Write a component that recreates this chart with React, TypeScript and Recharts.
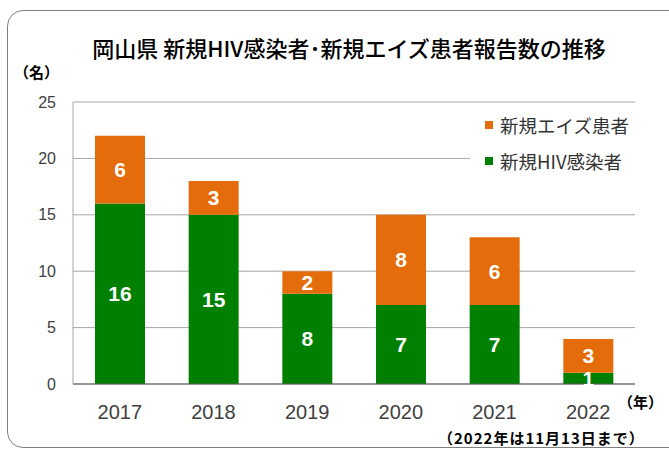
import { Bar, BarChart, CartesianGrid, LabelList, XAxis, YAxis } from "recharts";

const years = ["2017", "2018", "2019", "2020", "2021", "2022"];
const hivCases = [16, 15, 8, 7, 7, 1];
const aidsCases = [6, 3, 2, 8, 6, 3];
const yTicks = [0, 5, 10, 15, 20, 25];

const data = years.map((year, i) => ({
  year,
  hiv: hivCases[i],
  aids: aidsCases[i],
}));

const JP = "'Noto Sans CJK JP', sans-serif";
const NUM = "'Liberation Sans', Arial, sans-serif";

const ORANGE = "#E46C0A";
const GREEN = "#008000";

const legendItems = [
  { label: "新規エイズ患者", color: ORANGE },
  { label: "新規HIV感染者", color: GREEN },
];

export default function App() {
  return (
    <div style={{ position: "absolute", left: 0, top: 0, width: 669, height: 450, background: "#fff", overflow: "hidden" }}>
      <div
        style={{
          position: "absolute",
          left: 7,
          top: 10,
          width: 680,
          height: 436,
          border: "1px solid #7f7f7f",
          borderRadius: 16,
        }}
      />
      <div
        style={{
          position: "absolute",
          left: 0,
          width: 698,
          top: 33,
          textAlign: "center",
          fontFamily: JP,
          fontWeight: 500,
          fontSize: 22,
          color: "#000",
          lineHeight: "28px",
        }}
      >
        岡山県 新規HIV感染者･新規エイズ患者報告数の推移
      </div>
      <div style={{ position: "absolute", left: 14, top: 61, fontFamily: JP, fontWeight: 700, fontSize: 15, lineHeight: "22px" }}>
        （名）
      </div>
      <div style={{ position: "absolute", left: 618, top: 391, fontFamily: JP, fontWeight: 700, fontSize: 15, lineHeight: "22px" }}>
        （年）
      </div>
      <div
        style={{
          position: "absolute",
          left: 438,
          top: 428,
          fontFamily: JP,
          fontWeight: 700,
          fontSize: 15,
          letterSpacing: 1,
          lineHeight: "20px",
        }}
      >
        （2022年は11月13日まで）
      </div>
      <div style={{ position: "absolute", left: 0, top: 0 }}>
        <BarChart width={669} height={450} data={data} margin={{ top: 102, right: 34, bottom: 36, left: 0 }}>
          <CartesianGrid vertical={false} stroke="#a6a6a6" />
          <XAxis
            dataKey="year"
            height={30}
            tickLine={false}
            tickSize={0}
            tickMargin={21}
            axisLine={{ stroke: "#595959" }}
            tick={{ fill: "#404040", fontSize: 20, fontFamily: NUM }}
          />
          <YAxis
            width={73}
            domain={[0, 25]}
            ticks={yTicks}
            tickLine={false}
            tickSize={0}
            tickMargin={17}
            axisLine={{ stroke: "#a6a6a6" }}
            tick={{ fill: "#404040", fontSize: 16, fontFamily: NUM }}
          />
          <Bar dataKey="hiv" stackId="a" fill={GREEN} barSize={50} isAnimationActive={false}>
            <LabelList dataKey="hiv" position="center" fill="#fff" fontSize={21} fontWeight={700} fontFamily={NUM} />
          </Bar>
          <Bar dataKey="aids" stackId="a" fill={ORANGE} barSize={50} isAnimationActive={false}>
            <LabelList dataKey="aids" position="center" fill="#fff" fontSize={21} fontWeight={700} fontFamily={NUM} />
          </Bar>
        </BarChart>
      </div>
      <div
        style={{
          position: "absolute",
          left: 470,
          top: 106,
          width: 165,
          height: 70,
          background: "#fff",
          paddingTop: 1,
          paddingLeft: 15,
          boxSizing: "border-box",
        }}
      >
        {legendItems.map((it) => (
          <div key={it.label} style={{ display: "flex", alignItems: "center", height: 36 }}>
            <span style={{ width: 8, height: 8, background: it.color, marginRight: 7 }} />
            <span style={{ fontFamily: JP, fontSize: 18.5, color: "#333" }}>{it.label}</span>
          </div>
        ))}
      </div>
    </div>
  );
}
